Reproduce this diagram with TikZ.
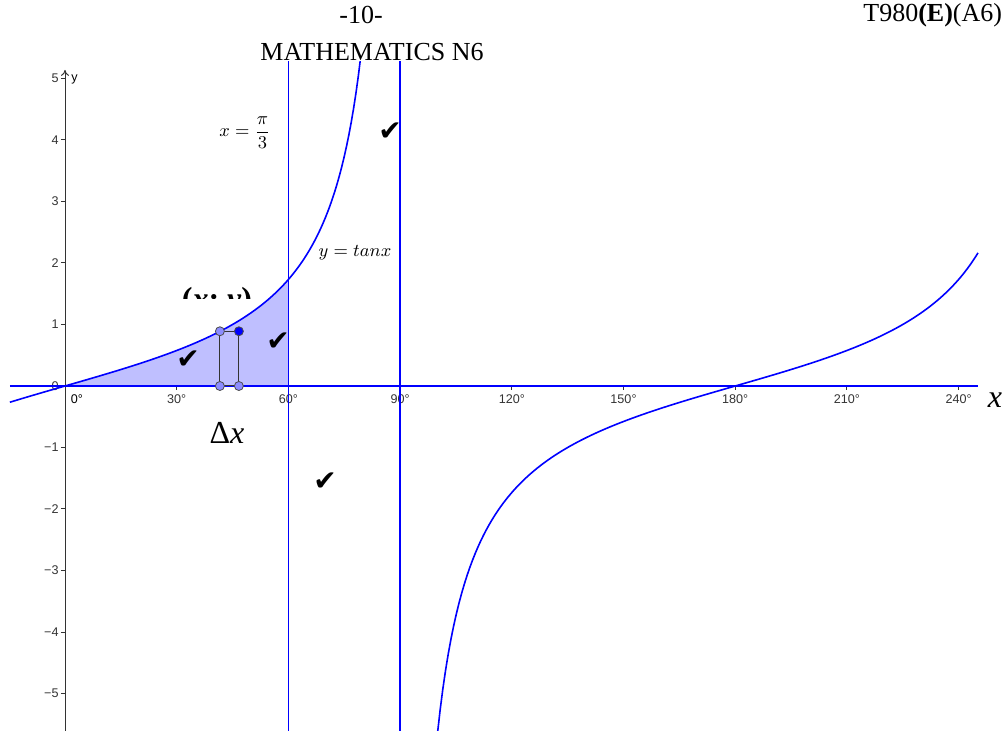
\documentclass[tikz,border=0pt]{standalone}
\usepackage{amsmath}
\usepackage{fontspec}
\setmainfont{Liberation Serif}
\setsansfont{Liberation Sans}
\newfontfamily\symfont{DejaVu Sans}
\usetikzlibrary{positioning}
\usetikzlibrary{arrows.meta}

\begin{document}
\begin{tikzpicture}[
    x=0.5pt, y=-0.5pt,
    >={To[length=3pt,width=4pt]},
    head/.style={font=\fontsize{13}{15}\selectfont, inner sep=0pt},
    ticklabel/.style={font=\sffamily\fontsize{6.3}{7}\selectfont, inner sep=0pt},
    check/.style={font=\symfont\fontsize{14}{14}\selectfont, inner sep=0pt},
    big/.style={font=\fontsize{16}{18}\selectfont, inner sep=0pt},
    mathlabel/.style={font=\fontsize{9}{11}\selectfont, inner sep=0pt},
    curve/.style={blue, line width=0.8pt},
    vline/.style={blue, line width=0.7pt},
    axis/.style={black!80, line width=0.5pt},
    area/.style={fill=blue!25},
    pt/.style={circle, draw=black!70, fill=blue!45, line width=0.4pt, minimum size=4.5pt, inner sep=0pt},
    ptdark/.style={pt, fill=blue}
]
\useasboundingbox (0,0) rectangle (1006,731);

% header
\node[head] (page) at (361,15) {-10-};
\node[head] (title) at (372,52) {MATHEMATICS N6};
\node[head, anchor=west] (code) at (863,15) {T980\textbf{(E)}(A6)};

\begin{scope}
\clip (0,62) rectangle (1006,731);
\begin{scope}[shift={(65,386)}, x=1.8617pt, y=30.75pt]
  \fill[area] (0,0) -- plot[domain=0:60, samples=40] (\x,{tan(\x)}) -- (60,0) -- cycle;

  % axes
  \draw[axis, ->] (0,-5.8) -- (0,5.14);
  \foreach \k/\lab in {5/5,4/4,3/3,2/2,1/1,0/0,-1/−1,-2/−2,-3/−3,-4/−4,-5/−5}
    \draw[axis] (-1.1,\k) -- (0,\k) node[ticklabel, anchor=east] at (-1.6,\k) {\lab};
  \foreach \d in {30,60,...,240}
    \draw[axis] (\d,0) -- (\d,-0.07) node[ticklabel] at (\d,-0.22) {\d°};
  \node[ticklabel] (zero) at (3.2,-0.22) {0°};
  \node[ticklabel, anchor=west] (ylab) at (1.6,4.98) {y};

  \draw[curve] (-14.8,0) -- (245.2,0);
  \draw[vline] (60,-5.8) -- (60,5.4);
  \draw[vline] (90,-5.8) -- (90,5.4);

  \draw[curve] plot[domain=-14.8:79.4, samples=150] (\x,{tan(\x)});
  \draw[curve] plot[domain=100.0:245.2, samples=200] (\x,{tan(\x)});

  % strip
  \coordinate (a) at (41.6,0);
  \coordinate (b) at (46.7,0);
  \coordinate (c) at (46.7,0.89);
  \coordinate (d) at (41.6,0.89);
  \filldraw[area, draw=black!80, line width=0.5pt] (a) -- (b) -- (c) -- (d) -- cycle;
  \node[pt] (pa) at (a) {};
  \node[pt] (pb) at (b) {};
  \node[pt] (pd) at (d) {};
  \node[ptdark] (pc) at (c) {};
\end{scope}
\end{scope}

% labels
\node[mathlabel] (line) at (245,133) {$x=\dfrac{\pi}{3}$};
\node[mathlabel] (fn) at (355,253) {$y=tan x$};
\node[big] (xaxis) at (995,400) {\textit{x}};
\node[big] (dx) at (227,433) {Δ\textit{x}};
\begin{scope}
\clip (150,250) rectangle (300,299);
\node[big] (xy) at (217,302) {\textbf{(\textit{x}; \textit{y})}};
\end{scope}

% marks
\node[check] (c1) at (188,360) {✔};
\node[check] (c2) at (278,342) {✔};
\node[check] (c3) at (390,132) {✔};
\node[check] (c4) at (325,482) {✔};
\end{tikzpicture}
\end{document}
